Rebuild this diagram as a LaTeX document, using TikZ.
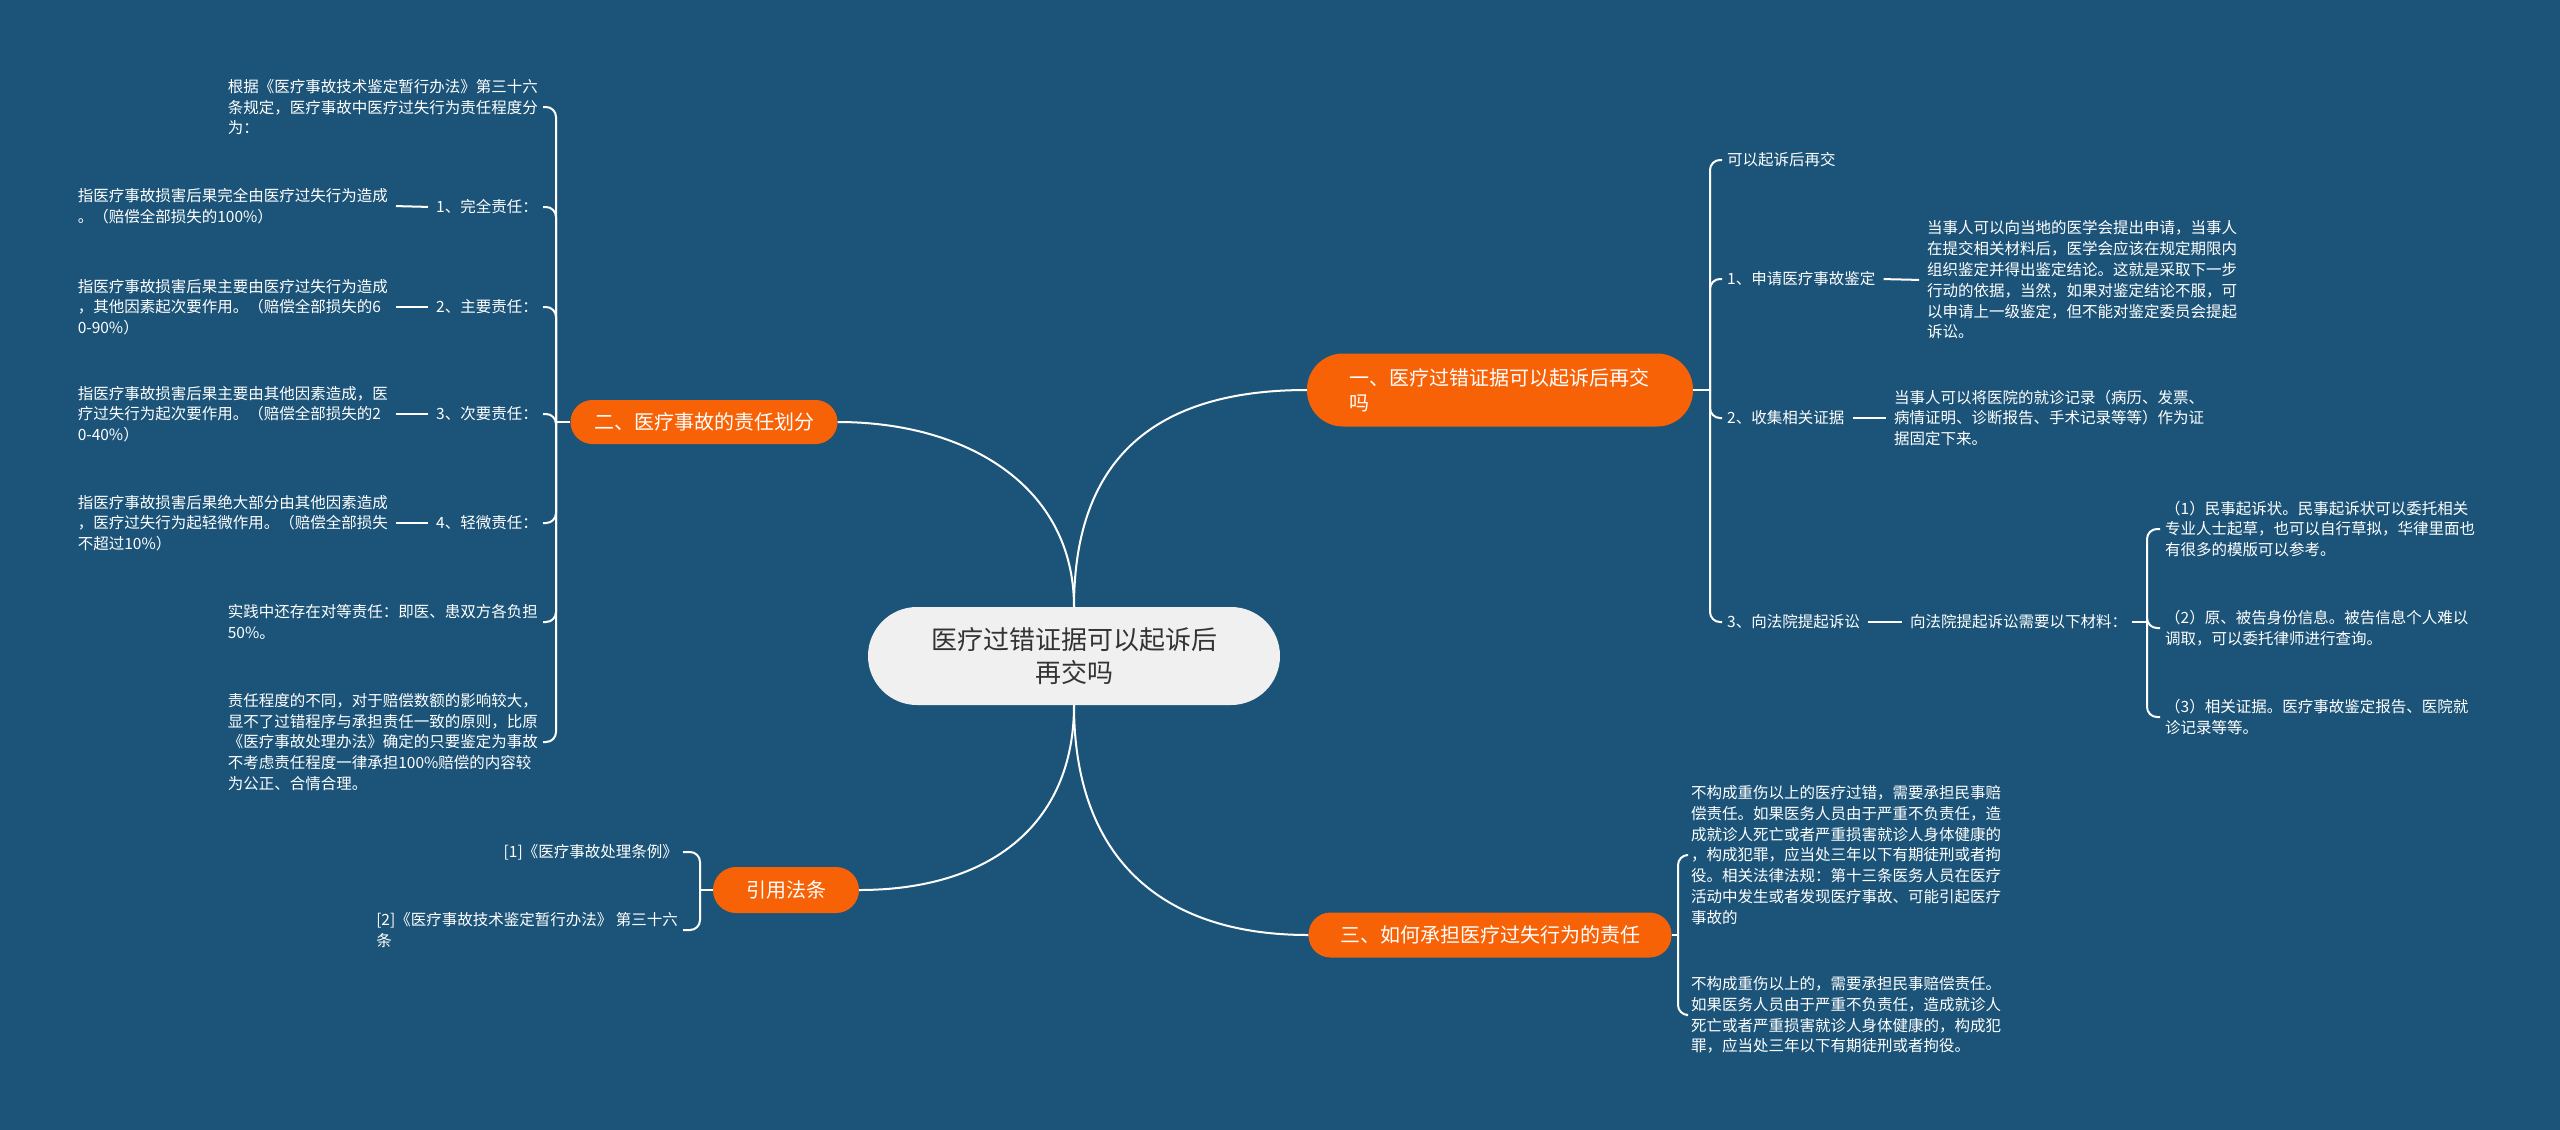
\documentclass[tikz,border=0pt]{standalone}
\usepackage{fontspec}
\setmainfont{Noto Sans CJK SC}
\definecolor{bgc}{HTML}{1B5478}
\definecolor{orng}{HTML}{F76207}
\definecolor{ctrfill}{HTML}{F0F0F0}
\definecolor{ctrtext}{HTML}{333333}
\begin{document}
\begin{tikzpicture}[x=1pt,y=-1pt,
  link/.style={draw=white,line width=2pt},
  brace/.style={draw=white,line width=2pt,rounded corners=10pt},
  tick/.style={draw=white,line width=2pt,shorten <=3pt,shorten >=3pt},
  leaf/.style={text=white,font=\fontsize{15.5}{20.8}\selectfont,align=left,inner xsep=5pt,inner ysep=2pt},
  topic/.style={fill=orng,text=white,font=\fontsize{20}{25}\selectfont,inner sep=0pt}]
\useasboundingbox (0,0) rectangle (2560,1130);
\fill[bgc] (0,0) rectangle (2560,1130);

% centre
\node[fill=ctrfill,text=ctrtext,rounded corners=49pt,minimum width=412pt,minimum height=98pt,
      font=\fontsize{26}{33}\selectfont,align=center,inner sep=0pt] (ctr) at (1074,656)
      {医疗过错证据可以起诉后\\再交吗};

% main topics
\node[topic,rounded corners=36pt,minimum width=386pt,minimum height=73pt,align=left,text width=302pt] (b1) at (1500,390)
      {一、医疗过错证据可以起诉后再交\\吗};
\node[topic,rounded corners=22pt,minimum width=267pt,minimum height=44pt] (b2) at (704,422) {二、医疗事故的责任划分};
\node[topic,rounded corners=23pt,minimum width=146pt,minimum height=46pt] (b3) at (786,890) {引用法条};
\node[topic,rounded corners=22pt,minimum width=363pt,minimum height=45pt] (b4) at (1490,935) {三、如何承担医疗过失行为的责任};

\draw[link] (ctr.north) .. controls +(0,-150) and +(-150,0) .. (b1.west);
\draw[link] (ctr.north) .. controls +(0,-120) and +(130,0) .. (b2.east);
\draw[link] (ctr.south) .. controls +(0,120) and +(130,0) .. (b3.east);
\draw[link] (ctr.south) .. controls +(0,150) and +(-150,0) .. (b4.west);

% ---- branch 二 ----
\node[leaf,anchor=east] (c0) at (543,107) {根据《医疗事故技术鉴定暂行办法》第三十六\\条规定，医疗事故中医疗过失行为责任程度分\\为：};
\node[leaf,anchor=east] (c1) at (543,207) {1、完全责任：};
\node[leaf,anchor=east] (c2) at (543,307) {2、主要责任：};
\node[leaf,anchor=east] (c3) at (543,414) {3、次要责任：};
\node[leaf,anchor=east] (c4) at (543,523) {4、轻微责任：};
\node[leaf,anchor=east] (c5) at (543,622) {实践中还存在对等责任：即医、患双方各负担\\50\%。};
\node[leaf,anchor=east] (c6) at (543,742) {责任程度的不同，对于赔偿数额的影响较大，\\显不了过错程序与承担责任一致的原则，比原\\《医疗事故处理办法》确定的只要鉴定为事故\\不考虑责任程度一律承担100\%赔偿的内容较\\为公正、合情合理。};

\node[leaf,anchor=east] (g1) at (393,206) {指医疗事故损害后果完全由医疗过失行为造成\\。（赔偿全部损失的100\%）};
\node[leaf,anchor=east] (g2) at (393,307) {指医疗事故损害后果主要由医疗过失行为造成\\，其他因素起次要作用。（赔偿全部损失的6\\0-90\%）};
\node[leaf,anchor=east] (g3) at (393,414) {指医疗事故损害后果主要由其他因素造成，医\\疗过失行为起次要作用。（赔偿全部损失的2\\0-40\%）};
\node[leaf,anchor=east] (g4) at (393,523) {指医疗事故损害后果绝大部分由其他因素造成\\，医疗过失行为起轻微作用。（赔偿全部损失\\不超过10\%）};

\coordinate (t2) at (556,422);
\draw[link] (b2.west) -- (t2);
\foreach \n in {c0,c1,c2,c3,c4,c5,c6} {\draw[brace] (t2) |- (\n.east);}
\draw[tick] (g1.east) -- (c1.west);
\draw[tick] (g2.east) -- (c2.west);
\draw[tick] (g3.east) -- (c3.west);
\draw[tick] (g4.east) -- (c4.west);

% ---- 引用法条 ----
\node[leaf,anchor=east] (q1) at (683,852) {[1]《医疗事故处理条例》};
\node[leaf,anchor=east] (q2) at (683,930) {[2]《医疗事故技术鉴定暂行办法》 第三十六\\条};
\coordinate (t3) at (700,890);
\draw[link] (b3.west) -- (t3);
\draw[brace] (t3) |- (q1.east);
\draw[brace] (t3) |- (q2.east);

% ---- branch 一 ----
\node[leaf,anchor=west] (r0) at (1722,160) {可以起诉后再交};
\node[leaf,anchor=west] (r1) at (1722,279) {1、申请医疗事故鉴定};
\node[leaf,anchor=west] (r1g) at (1922,280) {当事人可以向当地的医学会提出申请，当事人\\在提交相关材料后，医学会应该在规定期限内\\组织鉴定并得出鉴定结论。这就是采取下一步\\行动的依据，当然，如果对鉴定结论不服，可\\以申请上一级鉴定，但不能对鉴定委员会提起\\诉讼。};
\node[leaf,anchor=west] (r2) at (1722,418) {2、收集相关证据};
\node[leaf,anchor=west] (r2g) at (1889,418) {当事人可以将医院的就诊记录（病历、发票、\\病情证明、诊断报告、手术记录等等）作为证\\据固定下来。};
\node[leaf,anchor=west] (r3) at (1722,622) {3、向法院提起诉讼};
\node[leaf,anchor=west] (r3a) at (1905,622) {向法院提起诉讼需要以下材料：};
\node[leaf,anchor=west] (r3a1) at (2160,529) {（1）民事起诉状。民事起诉状可以委托相关\\专业人士起草，也可以自行草拟，华律里面也\\有很多的模版可以参考。};
\node[leaf,anchor=west] (r3a2) at (2160,628) {（2）原、被告身份信息。被告信息个人难以\\调取，可以委托律师进行查询。};
\node[leaf,anchor=west] (r3a3) at (2160,717) {（3）相关证据。医疗事故鉴定报告、医院就\\诊记录等等。};

\coordinate (t1) at (1710,390);
\draw[link] (b1.east) -- (t1);
\foreach \n in {r0,r1,r2,r3} {\draw[brace] (t1) |- (\n.west);}
\draw[tick] (r1.east) -- (r1g.west);
\draw[tick] (r2.east) -- (r2g.west);
\draw[tick] (r3.east) -- (r3a.west);
\coordinate (t4) at (2147,622);
\draw[link] (r3a.east) -- (t4);
\foreach \n in {r3a1,r3a2,r3a3} {\draw[brace] (t4) |- (\n.west);}

% ---- branch 三 ----
\node[leaf,anchor=west] (s1) at (1686,855) {不构成重伤以上的医疗过错，需要承担民事赔\\偿责任。如果医务人员由于严重不负责任，造\\成就诊人死亡或者严重损害就诊人身体健康的\\，构成犯罪，应当处三年以下有期徒刑或者拘\\役。相关法律法规：第十三条医务人员在医疗\\活动中发生或者发现医疗事故、可能引起医疗\\事故的};
\node[leaf,anchor=west] (s2) at (1686,1015) {不构成重伤以上的，需要承担民事赔偿责任。\\如果医务人员由于严重不负责任，造成就诊人\\死亡或者严重损害就诊人身体健康的，构成犯\\罪，应当处三年以下有期徒刑或者拘役。};
\coordinate (t5) at (1678,935);
\draw[link] (b4.east) -- (t5);
\draw[brace] (t5) |- (s1.west);
\draw[brace] (t5) |- (s2.west);
\end{tikzpicture}
\end{document}
